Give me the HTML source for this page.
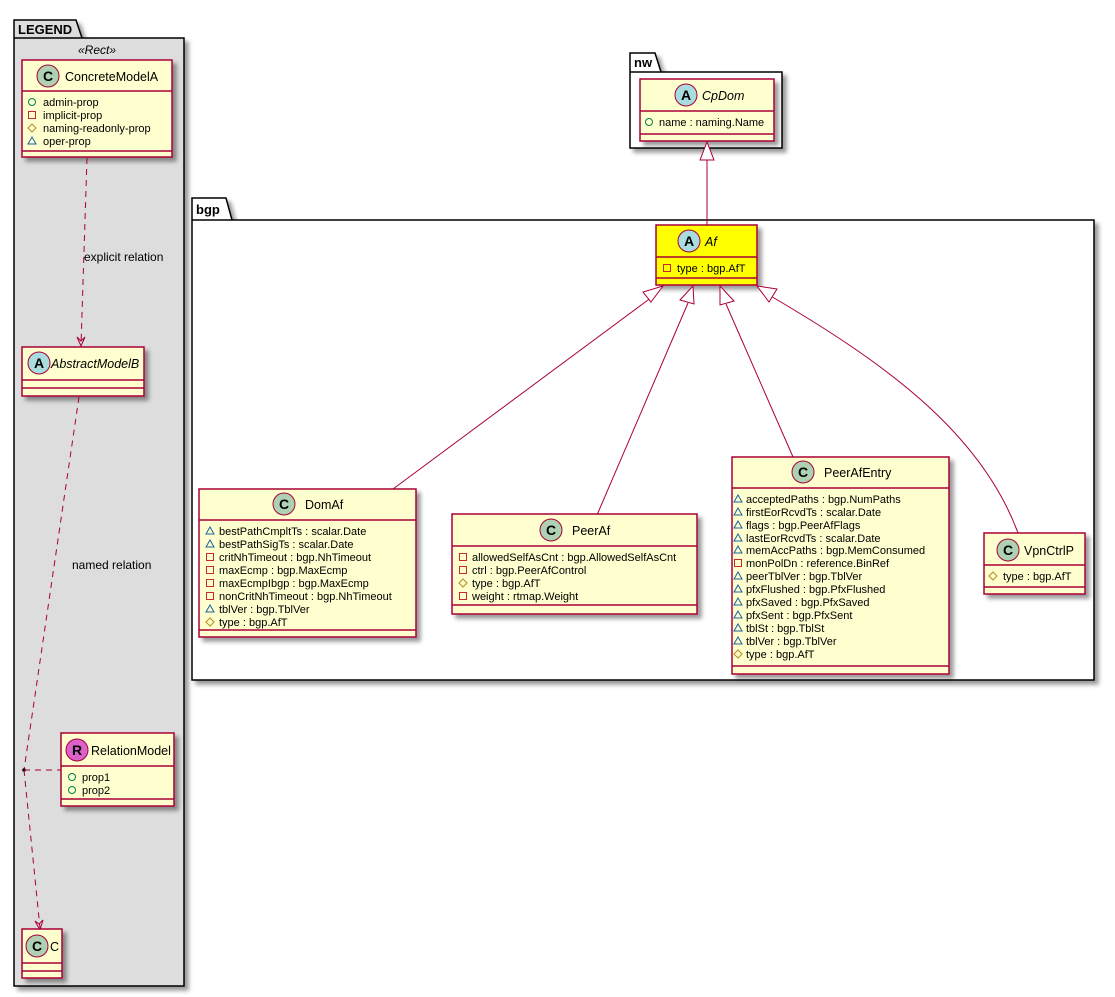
<!DOCTYPE html>
<html><head><meta charset="utf-8"><style>
html,body{margin:0;padding:0;background:#fff;}
svg{display:block;font-family:"Liberation Sans","DejaVu Sans",sans-serif;}
.b{fill:#FEFECE;stroke:#A80036;stroke-width:1.5;}
.l{stroke:#A80036;stroke-width:1.5;}
.t{font-size:11px;fill:#000;}
.n{font-size:12.5px;fill:#000;}
.e{stroke:#A80036;stroke-width:1;fill:none;}
.d{stroke:#A80036;stroke-width:1;fill:none;stroke-dasharray:6,5;}
</style></head><body>
<svg width="1115" height="997" viewBox="0 0 1115 997" xmlns="http://www.w3.org/2000/svg">
<defs>
<filter id="sh" x="-10%" y="-10%" width="130%" height="130%"><feGaussianBlur in="SourceAlpha" stdDeviation="2"/><feOffset dx="4" dy="4"/><feComponentTransfer><feFuncA type="linear" slope="0.4"/></feComponentTransfer><feMerge><feMergeNode/><feMergeNode in="SourceGraphic"/></feMerge></filter>
<symbol id="pub" viewBox="-5 -5 10 10" width="10" height="10" overflow="visible"><circle r="3.5" fill="none" stroke="#038048" stroke-width="1"/></symbol>
<symbol id="pri" viewBox="-5 -5 10 10" width="10" height="10" overflow="visible"><rect x="-3.5" y="-3.5" width="7" height="7" fill="none" stroke="#C82930" stroke-width="1"/></symbol>
<symbol id="pro" viewBox="-5 -5 10 10" width="10" height="10" overflow="visible"><path d="M0,-4 L4,0 L0,4 L-4,0 Z" fill="none" stroke="#B38D22" stroke-width="1"/></symbol>
<symbol id="pkg" viewBox="-5 -5 10 10" width="10" height="10" overflow="visible"><path d="M0,-4 L4,3 L-4,3 Z" fill="none" stroke="#1963A0" stroke-width="1"/></symbol>
</defs>

<!-- LEGEND package -->
<g filter="url(#sh)">
<path d="M14,20 L76,20 L82,38 L184,38 L184,986 L14,986 Z" fill="#DDDDDD" stroke="#000" stroke-width="1.5"/>
</g>
<line x1="14" y1="38" x2="82" y2="38" stroke="#000" stroke-width="1.5"/>
<text x="18" y="34" style="font-size:13px;font-weight:bold">LEGEND</text>
<text x="97" y="54" text-anchor="middle" style="font-size:12px;font-style:italic">«Rect»</text>

<!-- ConcreteModelA -->
<rect class="b" x="22" y="60" width="150" height="97" filter="url(#sh)"/>
<line class="l" x1="22" y1="91" x2="172" y2="91"/><line class="l" x1="22" y1="151" x2="172" y2="151"/>
<circle cx="48" cy="76" r="11" fill="#ADD1B2" stroke="#A80036" stroke-width="1"/>
<text x="48" y="81" text-anchor="middle" style="font-size:14px;font-weight:bold">C</text>
<text class="n" x="65" y="81">ConcreteModelA</text>
<use href="#pub" x="27" y="97"/><text class="t" x="43" y="106">admin-prop</text>
<use href="#pri" x="27" y="110"/><text class="t" x="43" y="119">implicit-prop</text>
<use href="#pro" x="27" y="123"/><text class="t" x="43" y="132">naming-readonly-prop</text>
<use href="#pkg" x="27" y="136"/><text class="t" x="43" y="145">oper-prop</text>

<!-- explicit relation -->
<path class="d" d="M87,158 L81,345"/>
<path class="e" d="M77,337 L81,346 L85,337 L81,341 Z" fill="#A80036"/>
<text x="84" y="261" style="font-size:12px">explicit relation</text>

<!-- AbstractModelB -->
<rect class="b" x="22" y="347" width="122" height="49" filter="url(#sh)"/>
<line class="l" x1="22" y1="380" x2="144" y2="380"/><line class="l" x1="22" y1="388" x2="144" y2="388"/>
<circle cx="39" cy="363" r="11" fill="#A9DCDF" stroke="#A80036" stroke-width="1"/>
<text x="39" y="368" text-anchor="middle" style="font-size:14px;font-weight:bold">A</text>
<text class="n" x="51" y="368" style="font-style:italic">AbstractModelB</text>

<!-- named relation -->
<path class="d" d="M79,397 L24,770"/>
<text x="72" y="569" style="font-size:12px">named relation</text>
<circle cx="24" cy="770" r="1.8" fill="#000"/>
<path class="d" d="M24,770 L61,770"/>
<path class="d" d="M24,770 L40,928"/>
<path class="e" d="M35,921 L40,930 L43,920 L39,924 Z" fill="#A80036"/>

<!-- RelationModel -->
<rect class="b" x="61" y="733" width="113" height="73" filter="url(#sh)"/>
<line class="l" x1="61" y1="766" x2="174" y2="766"/><line class="l" x1="61" y1="799" x2="174" y2="799"/>
<circle cx="77" cy="750" r="11" fill="#DB62CB" stroke="#A80036" stroke-width="1"/>
<text x="77" y="755" text-anchor="middle" style="font-size:14px;font-weight:bold">R</text>
<text class="n" x="91" y="755">RelationModel</text>
<use href="#pub" x="67" y="772"/><text class="t" x="82" y="781">prop1</text>
<use href="#pub" x="67" y="785"/><text class="t" x="82" y="794">prop2</text>

<!-- C -->
<rect class="b" x="22" y="929" width="40" height="49" filter="url(#sh)"/>
<line class="l" x1="22" y1="963" x2="62" y2="963"/><line class="l" x1="22" y1="971" x2="62" y2="971"/>
<circle cx="37" cy="946" r="11" fill="#ADD1B2" stroke="#A80036" stroke-width="1"/>
<text x="37" y="951" text-anchor="middle" style="font-size:14px;font-weight:bold">C</text>
<text class="n" x="50" y="951">C</text>

<!-- nw package -->
<g filter="url(#sh)">
<path d="M630,53 L655,53 L661,72 L782,72 L782,148 L630,148 Z" fill="#fff" stroke="#000" stroke-width="1.5"/>
</g>
<line x1="630" y1="72" x2="661" y2="72" stroke="#000" stroke-width="1.5"/>
<text x="634" y="67" style="font-size:13px;font-weight:bold">nw</text>
<rect class="b" x="640" y="79" width="134" height="62" filter="url(#sh)"/>
<line class="l" x1="640" y1="111" x2="774" y2="111"/><line class="l" x1="640" y1="134" x2="774" y2="134"/>
<circle cx="686" cy="95" r="11" fill="#A9DCDF" stroke="#A80036" stroke-width="1"/>
<text x="686" y="100" text-anchor="middle" style="font-size:14px;font-weight:bold">A</text>
<text class="n" x="702" y="100" style="font-style:italic">CpDom</text>
<use href="#pub" x="644" y="117"/><text class="t" x="659" y="126">name : naming.Name</text>

<!-- bgp package -->
<g filter="url(#sh)">
<path d="M192,198 L226,198 L232,220 L1094,220 L1094,680 L192,680 Z" fill="#fff" stroke="#000" stroke-width="1.5"/>
</g>
<line x1="192" y1="220" x2="232" y2="220" stroke="#000" stroke-width="1.5"/>
<text x="196" y="214" style="font-size:13px;font-weight:bold">bgp</text>

<!-- Af to CpDom -->
<path class="e" d="M707,226 L707,160"/>
<path d="M700,160 L707,142 L714,160 Z" fill="#fff" stroke="#A80036" stroke-width="1"/>

<!-- Af -->
<rect x="656" y="225" width="101" height="60" fill="#FFFF00" stroke="#A80036" stroke-width="1.5" filter="url(#sh)"/>
<line class="l" x1="656" y1="257" x2="757" y2="257"/><line class="l" x1="656" y1="278" x2="757" y2="278"/>
<circle cx="689" cy="241" r="11" fill="#A9DCDF" stroke="#A80036" stroke-width="1"/>
<text x="689" y="246" text-anchor="middle" style="font-size:14px;font-weight:bold">A</text>
<text class="n" x="705" y="246" style="font-style:italic">Af</text>
<use href="#pri" x="662" y="263"/><text class="t" x="677" y="272">type : bgp.AfT</text>

<!-- generalization lines -->
<path class="e" d="M652,297 L393,489"/>
<path d="M651,302 L663,286 L643,292 Z" fill="#fff" stroke="#A80036" stroke-width="1"/>
<path class="e" d="M688,303 L597,515"/>
<path d="M680,300 L693,286 L694,304 Z" fill="#fff" stroke="#A80036" stroke-width="1"/>
<path class="e" d="M726,304 L793,457"/>
<path d="M720,286 L720,305 L734,301 Z" fill="#fff" stroke="#A80036" stroke-width="1"/>
<path class="e" d="M769,295 C880,360 980,430 1018,533"/>
<path d="M757,286 L769,302 L777,289 Z" fill="#fff" stroke="#A80036" stroke-width="1"/>

<!-- DomAf -->
<rect class="b" x="199" y="489" width="217" height="148" filter="url(#sh)"/>
<line class="l" x1="199" y1="520" x2="416" y2="520"/><line class="l" x1="199" y1="630" x2="416" y2="630"/>
<circle cx="284" cy="504" r="11" fill="#ADD1B2" stroke="#A80036" stroke-width="1"/>
<text x="284" y="509" text-anchor="middle" style="font-size:14px;font-weight:bold">C</text>
<text class="n" x="305" y="509">DomAf</text>
<use href="#pkg" x="205" y="526"/><text class="t" x="219" y="535">bestPathCmpltTs : scalar.Date</text>
<use href="#pkg" x="205" y="539"/><text class="t" x="219" y="548">bestPathSigTs : scalar.Date</text>
<use href="#pri" x="205" y="552"/><text class="t" x="219" y="561">critNhTimeout : bgp.NhTimeout</text>
<use href="#pri" x="205" y="565"/><text class="t" x="219" y="574">maxEcmp : bgp.MaxEcmp</text>
<use href="#pri" x="205" y="578"/><text class="t" x="219" y="587">maxEcmpIbgp : bgp.MaxEcmp</text>
<use href="#pri" x="205" y="591"/><text class="t" x="219" y="600">nonCritNhTimeout : bgp.NhTimeout</text>
<use href="#pkg" x="205" y="604"/><text class="t" x="219" y="613">tblVer : bgp.TblVer</text>
<use href="#pro" x="205" y="617"/><text class="t" x="219" y="626">type : bgp.AfT</text>

<!-- PeerAf -->
<rect class="b" x="452" y="514" width="245" height="100" filter="url(#sh)"/>
<line class="l" x1="452" y1="546" x2="697" y2="546"/><line class="l" x1="452" y1="605" x2="697" y2="605"/>
<circle cx="551" cy="530" r="11" fill="#ADD1B2" stroke="#A80036" stroke-width="1"/>
<text x="551" y="535" text-anchor="middle" style="font-size:14px;font-weight:bold">C</text>
<text class="n" x="572" y="535">PeerAf</text>
<use href="#pri" x="458" y="552"/><text class="t" x="472" y="561">allowedSelfAsCnt : bgp.AllowedSelfAsCnt</text>
<use href="#pri" x="458" y="565"/><text class="t" x="472" y="574">ctrl : bgp.PeerAfControl</text>
<use href="#pro" x="458" y="578"/><text class="t" x="472" y="587">type : bgp.AfT</text>
<use href="#pri" x="458" y="591"/><text class="t" x="472" y="600">weight : rtmap.Weight</text>

<!-- PeerAfEntry -->
<rect class="b" x="732" y="457" width="217" height="217" filter="url(#sh)"/>
<line class="l" x1="732" y1="488" x2="949" y2="488"/><line class="l" x1="732" y1="666" x2="949" y2="666"/>
<circle cx="803" cy="472" r="11" fill="#ADD1B2" stroke="#A80036" stroke-width="1"/>
<text x="803" y="477" text-anchor="middle" style="font-size:14px;font-weight:bold">C</text>
<text class="n" x="824" y="477">PeerAfEntry</text>
<use href="#pkg" x="733" y="494"/><text class="t" x="746" y="503">acceptedPaths : bgp.NumPaths</text>
<use href="#pkg" x="733" y="507"/><text class="t" x="746" y="516">firstEorRcvdTs : scalar.Date</text>
<use href="#pkg" x="733" y="520"/><text class="t" x="746" y="529">flags : bgp.PeerAfFlags</text>
<use href="#pkg" x="733" y="533"/><text class="t" x="746" y="542">lastEorRcvdTs : scalar.Date</text>
<use href="#pkg" x="733" y="545"/><text class="t" x="746" y="554">memAccPaths : bgp.MemConsumed</text>
<use href="#pri" x="733" y="558"/><text class="t" x="746" y="567">monPolDn : reference.BinRef</text>
<use href="#pkg" x="733" y="571"/><text class="t" x="746" y="580">peerTblVer : bgp.TblVer</text>
<use href="#pkg" x="733" y="584"/><text class="t" x="746" y="593">pfxFlushed : bgp.PfxFlushed</text>
<use href="#pkg" x="733" y="597"/><text class="t" x="746" y="606">pfxSaved : bgp.PfxSaved</text>
<use href="#pkg" x="733" y="610"/><text class="t" x="746" y="619">pfxSent : bgp.PfxSent</text>
<use href="#pkg" x="733" y="623"/><text class="t" x="746" y="632">tblSt : bgp.TblSt</text>
<use href="#pkg" x="733" y="636"/><text class="t" x="746" y="645">tblVer : bgp.TblVer</text>
<use href="#pro" x="733" y="649"/><text class="t" x="746" y="658">type : bgp.AfT</text>

<!-- VpnCtrlP -->
<rect class="b" x="984" y="533" width="101" height="61" filter="url(#sh)"/>
<line class="l" x1="984" y1="565" x2="1085" y2="565"/><line class="l" x1="984" y1="587" x2="1085" y2="587"/>
<circle cx="1008" cy="550" r="11" fill="#ADD1B2" stroke="#A80036" stroke-width="1"/>
<text x="1008" y="555" text-anchor="middle" style="font-size:14px;font-weight:bold">C</text>
<text class="n" x="1024" y="555">VpnCtrlP</text>
<use href="#pro" x="988" y="571"/><text class="t" x="1003" y="580">type : bgp.AfT</text>
</svg>
</body></html>
